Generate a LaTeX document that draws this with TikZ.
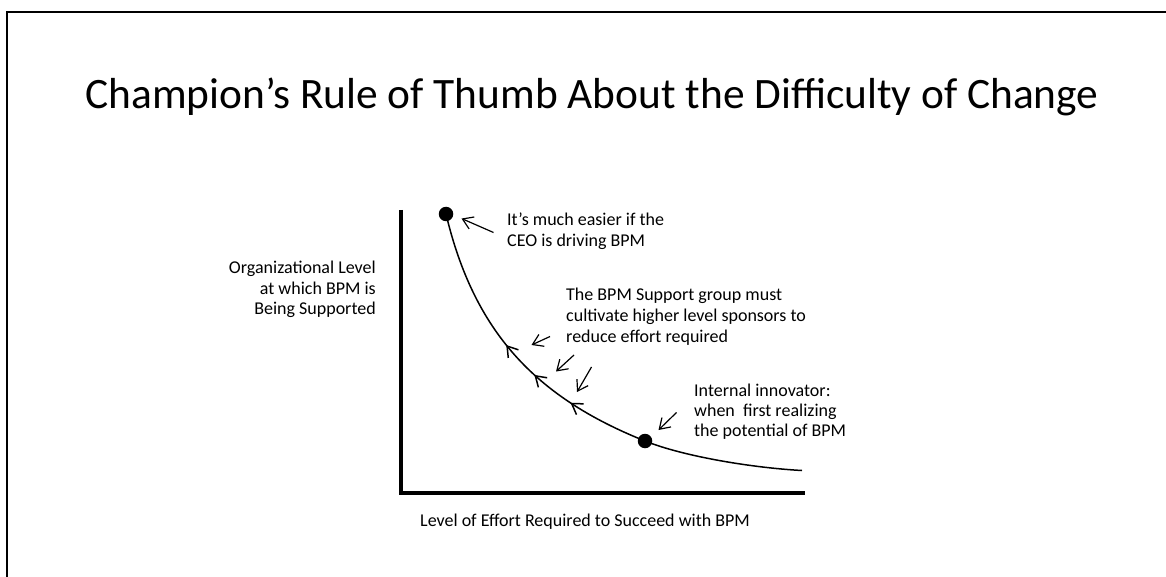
\documentclass[tikz,border=0pt]{standalone}
\usepackage{fontspec}
\setmainfont{Carlito}
\usetikzlibrary{arrows.meta,decorations.markings}
\begin{document}
\begin{tikzpicture}[x=1pt,y=-1pt,
  txt/.style={inner sep=0pt,font=\fontsize{18}{21}\selectfont},
  pointer/.style={-{Straight Barb[length=10pt,width=13pt]},line width=1.2pt},
  dot/.style={circle,fill=black,inner sep=0pt,minimum size=14.5pt},
  axis/.style={line width=4pt},
  curve/.style={line width=1.5pt},
  flow/.style={
    decoration={markings,
      mark=at position 0.46 with {\arrowreversed{Straight Barb[length=10pt,width=13pt]}},
      mark=at position 0.59 with {\arrowreversed{Straight Barb[length=10pt,width=13pt]}},
      mark=at position 0.735 with {\arrowreversed{Straight Barb[length=10pt,width=13pt]}}},
    postaction=decorate}
]
\useasboundingbox (0,0) rectangle (1166,577);

% slide frame
\draw[line width=2.2pt] (7,577) -- (7,12) -- (1166,12);

% title
\node[inner sep=0pt,anchor=base,font=\fontsize{43.4}{50}\selectfont] (title) at (592,109)
  {Champion’s Rule of Thumb About the Difficulty of Change};

% axes
\coordinate (ytop) at (401,210);
\coordinate (origin) at (401,492.5);
\coordinate (xend) at (805,492.5);
\draw[axis] (ytop) -- (origin) -- (xend);

% axis labels
\node[txt,anchor=base east] (yl1) at (376,273.5) {Organizational Level};
\node[txt,anchor=base east] (yl2) at (376,294) {at which BPM is};
\node[txt,anchor=base east] (yl3) at (376,314.5) {Being Supported};
\node[txt,anchor=base west] (xl) at (420,526) {Level of Effort Required to Succeed with BPM};

% end points of the curve
\node[dot] (ceo) at (446,214) {};
\node[dot] (innov) at (645,441) {};
\coordinate (tail) at (802,470.5);

% difficulty curve: steep part with flow arrows, then the flat tail
\draw[curve,flow] (ceo.center) .. controls (474,331.6) and (535,397) .. (innov.center);
\draw[curve] (innov.center) .. controls (685,457) and (755,468) .. (tail);

% annotations
\node[txt,anchor=base west] (ceo1) at (507,225.5) {It’s much easier if the};
\node[txt,anchor=base west] (ceo2) at (507,246.5) {CEO is driving BPM};

\node[txt,anchor=base west] (sup1) at (566,300.5) {The BPM Support group must};
\node[txt,anchor=base west] (sup2) at (566,321) {cultivate higher level sponsors to};
\node[txt,anchor=base west] (sup3) at (566,342) {reduce effort required};

\node[txt,anchor=base west] (inn1) at (694,396.5) {Internal innovator:};
\node[txt,anchor=base west] (inn2) at (694,416.5) {when~ first realizing};
\node[txt,anchor=base west] (inn3) at (694,436.5) {the potential of BPM};

% pointer arrows
\coordinate (p1s) at (493.5,232.5); \coordinate (p1e) at (461.5,218.5);
\coordinate (p2s) at (550,336.5);   \coordinate (p2e) at (531.5,345);
\coordinate (p3s) at (574,355);     \coordinate (p3e) at (556,371.5);
\coordinate (p4s) at (591.5,367);   \coordinate (p4e) at (577,392);
\coordinate (p5s) at (676.5,412.5); \coordinate (p5e) at (658.5,430);
\draw[pointer] (p1s) -- (p1e);
\draw[pointer] (p2s) -- (p2e);
\draw[pointer] (p3s) -- (p3e);
\draw[pointer] (p4s) -- (p4e);
\draw[pointer] (p5s) -- (p5e);
\end{tikzpicture}
\end{document}
